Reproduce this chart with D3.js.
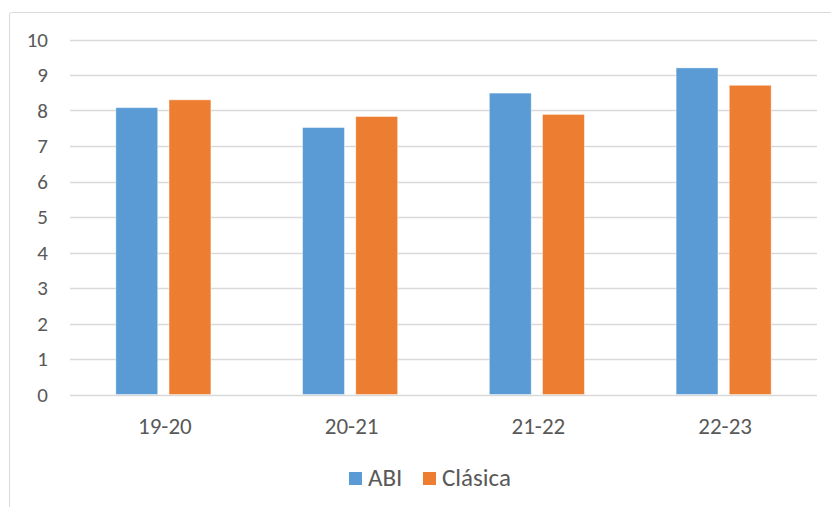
<!DOCTYPE html>
<html>
<head>
<meta charset="utf-8">
<script src="https://cdn.jsdelivr.net/npm/d3@7"></script>
<style>
  html, body { margin: 0; padding: 0; background: #ffffff; }
  svg { display: block; }
  text { font-family: Carlito, Lato, "Open Sans", sans-serif; fill: #595959; }
</style>
</head>
<body>
<svg id="chart" width="831" height="507"></svg>
<script>
// Course years on the category axis
const categories = ["19-20", "20-21", "21-22", "22-23"];
// Series names shown in the legend
const seriesNames = ["ABI", "Clásica"];
// Average score per course year
const abiValues = [8.08, 7.52, 8.49, 9.20];
const clasicaValues = [8.30, 7.83, 7.89, 8.71];
// Value axis ticks
const yTicks = [0, 1, 2, 3, 4, 5, 6, 7, 8, 9, 10];

const colors = ["#5B9BD5", "#ED7D31"];
const seriesValues = [abiValues, clasicaValues];

const svg = d3.select("#chart");

// Chart area frame (runs past the right and bottom edges)
svg.append("rect")
  .attr("x", 9.5).attr("y", 12.5)
  .attr("width", 900).attr("height", 600)
  .attr("rx", 2)
  .attr("fill", "#ffffff")
  .attr("stroke", "#D9D9D9")
  .attr("stroke-width", 1);

const plot = { left: 70, right: 817, top: 39.5, bottom: 394.5 };

const y = d3.scaleLinear().domain([0, 10]).range([plot.bottom, plot.top]);
const x0 = d3.scaleBand().domain(categories).range([plot.left, plot.right]).padding(0);

// Excel-style grouping: gap width 219%, overlap -27%
const step = x0.bandwidth();
const barW = step / (2 + 0.27 + 2.19);
const groupW = barW * 2.27;
const x1 = d3.scaleBand().domain(seriesNames)
  .range([0, groupW]).paddingInner(0.27 / 1.27).paddingOuter(0);

// Horizontal gridlines
svg.append("g").selectAll("line")
  .data(yTicks)
  .join("line")
  .attr("x1", plot.left).attr("x2", plot.right)
  .attr("y1", d => Math.round(y(d)) + 0.5).attr("y2", d => Math.round(y(d)) + 0.5)
  .attr("stroke", "#D9D9D9")
  .attr("stroke-width", 1.3);

// Value axis labels
svg.append("g").selectAll("text")
  .data(yTicks)
  .join("text")
  .attr("x", 48)
  .attr("y", d => y(d) + 7.2)
  .attr("text-anchor", "end")
  .style("font-size", "21px")
  .text(d => d);

// Bars
const groups = svg.append("g").selectAll("g")
  .data(categories)
  .join("g")
  .attr("transform", d => `translate(${x0(d) + (step - groupW) / 2},0)`);

groups.selectAll("rect")
  .data((d, i) => seriesNames.map((s, k) => ({ s, k, v: seriesValues[k][i] })))
  .join("rect")
  .attr("x", d => x1(d.s))
  .attr("width", x1.bandwidth())
  .attr("y", d => y(d.v))
  .attr("height", d => y(0) - y(d.v))
  .attr("fill", d => colors[d.k])
  .attr("stroke", "#ffffff")
  .attr("stroke-opacity", 0.5)
  .attr("stroke-width", 0.8);

// Category axis labels
svg.append("g").selectAll("text")
  .data(categories)
  .join("text")
  .attr("x", d => x0(d) + step / 2 + 1.5)
  .attr("y", 434)
  .attr("text-anchor", "middle")
  .style("font-size", "23px")
  .text(d => d);

// Legend
const legendItems = [
  { name: seriesNames[0], color: colors[0], x: 349 },
  { name: seriesNames[1], color: colors[1], x: 423 }
];
const legend = svg.append("g");
legend.selectAll("rect")
  .data(legendItems)
  .join("rect")
  .attr("x", d => d.x).attr("y", 472)
  .attr("width", 13).attr("height", 13)
  .attr("fill", d => d.color);
legend.selectAll("text")
  .data(legendItems)
  .join("text")
  .attr("x", d => d.x + 19)
  .attr("y", 485.5)
  .style("font-size", "25px")
  .text(d => d.name);
</script>
</body>
</html>
